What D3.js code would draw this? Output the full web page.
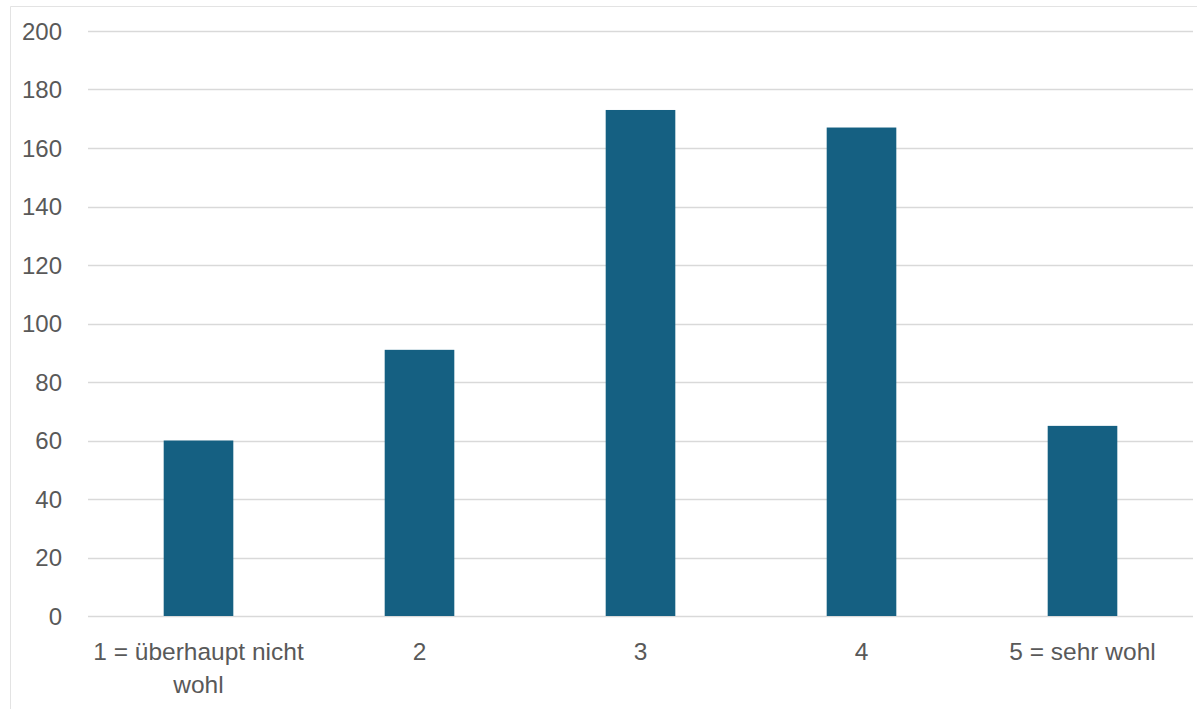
<!DOCTYPE html>
<html>
<head>
<meta charset="utf-8">
<script src="https://cdn.jsdelivr.net/npm/d3@7"></script>
<style>
  body { margin: 0; background: #fff; }
  svg { display: block; }
  text { font-family: "Liberation Sans", Arial, sans-serif; fill: #595959; }
</style>
</head>
<body>
<svg width="1197" height="709"></svg>
<script>
var categories = [["1 = überhaupt nicht", "wohl"], ["2"], ["3"], ["4"], ["5 = sehr wohl"]];
var values = [60, 91, 173, 167, 65];
var yTicks = [0, 20, 40, 60, 80, 100, 120, 140, 160, 180, 200];

var svg = d3.select("svg"),
    width = +svg.attr("width"),
    height = +svg.attr("height"),
    margin = {top: 31, right: 4, bottom: 93, left: 88};

// chart area frame (top and left edges only visible)
svg.append("path")
    .attr("d", "M10.5," + height + "V6.5H" + width)
    .style("fill", "none")
    .style("stroke", "#e3e3e3");

var x = d3.scaleBand()
    .domain(d3.range(categories.length))
    .range([margin.left, width - margin.right])
    .paddingInner(0.685)
    .paddingOuter(0.3425);

var y = d3.scaleLinear()
    .domain([0, 200])
    .range([height - margin.bottom, margin.top]);

var g = svg.append("g");

g.append("g")
    .attr("class", "grid")
  .selectAll("line")
  .data(yTicks)
  .enter().append("line")
    .attr("x1", margin.left)
    .attr("x2", width - margin.right)
    .attr("y1", function(d) { return Math.round(y(d)) + 0.5; })
    .attr("y2", function(d) { return Math.round(y(d)) + 0.5; })
    .style("stroke", "#d9d9d9")
    .style("stroke-width", 1.3);

g.append("g")
  .selectAll("text")
  .data(yTicks)
  .enter().append("text")
    .attr("x", 62)
    .attr("y", function(d) { return y(d); })
    .attr("dy", "0.36em")
    .attr("text-anchor", "end")
    .style("font-size", "24px")
    .text(function(d) { return d; });

g.append("g")
  .selectAll("rect")
  .data(values)
  .enter().append("rect")
    .attr("x", function(d, i) { return x(i); })
    .attr("width", x.bandwidth())
    .attr("y", function(d) { return y(d); })
    .attr("height", function(d) { return y(0) - y(d); })
    .style("fill", "#156082");

var labels = g.append("g")
  .selectAll("text")
  .data(categories)
  .enter().append("text")
    .attr("text-anchor", "middle")
    .style("font-size", "24.5px");

labels.selectAll("tspan")
  .data(function(d, i) { return d.map(function(t) { return {t: t, i: i}; }); })
  .enter().append("tspan")
    .attr("x", function(d) { return x(d.i) + x.bandwidth() / 2; })
    .attr("y", function(d, j) { return 660 + j * 33; })
    .text(function(d) { return d.t; });
</script>
</body>
</html>
